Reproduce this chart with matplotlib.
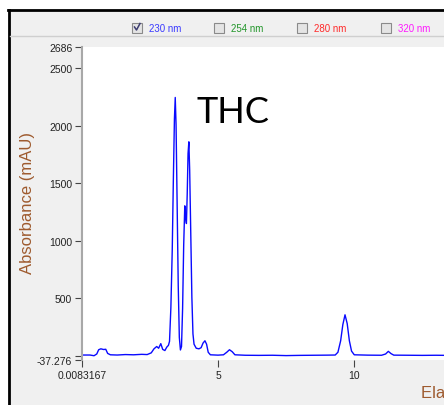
import matplotlib.pyplot as plt
from matplotlib.patches import Rectangle
from matplotlib.lines import Line2D

# chromatogram trace, 230 nm channel
rt_min = [0.0083, 0.30, 0.45, 0.55, 0.62, 0.70, 0.80, 0.88, 0.95, 1.05,
          1.30, 1.60, 1.90, 2.20, 2.40, 2.55, 2.65, 2.75, 2.82, 2.90,
          2.97, 3.05, 3.12, 3.18, 3.22, 3.27, 3.32, 3.36, 3.40, 3.43,
          3.46, 3.50, 3.54, 3.58, 3.62, 3.66, 3.70, 3.74, 3.78, 3.81,
          3.84, 3.87, 3.90, 3.93, 3.96, 4.00, 4.04, 4.08, 4.12, 4.20,
          4.30, 4.38, 4.45, 4.52, 4.58, 4.64, 4.72, 5.00, 5.20, 5.32,
          5.42, 5.52, 5.62, 6.00, 6.50, 7.00, 7.50, 8.00, 8.50, 9.00,
          9.30, 9.40, 9.50, 9.58, 9.66, 9.74, 9.82, 9.90, 10.00, 10.50,
          11.00, 11.15, 11.25, 11.35, 11.45, 12.00, 12.50, 13.00, 13.40]
absorbance_mau = [6, 6, 0, 15, 52, 60, 54, 56, 20, 8,
                  6, 10, 8, 12, 10, 25, 60, 80, 65, 105,
                  55, 45, 75, 90, 125, 420, 920, 1520, 2060, 2247,
                  2010, 1310, 610, 160, 50, 80, 410, 960, 1304, 1210,
                  1150, 1410, 1760, 1861, 1610, 1060, 510, 190, 100, 65,
                  60, 70, 110, 130, 100, 30, 8, 5, 8, 30,
                  52, 35, 8, 4, 3, 4, 1, 3, 4, 5,
                  6, 30, 130, 270, 356, 280, 130, 40, 8, 5,
                  4, 15, 38, 18, 5, 4, 3, 4, 3]

y_ticks = [-37.276, 0, 500, 1000, 1500, 2000, 2500, 2686]
y_tick_labels = ["-37.276", "", "500", "1000", "1500", "2000", "2500", "2686"]
x_ticks = [0.0083167, 5, 10]
x_tick_labels = ["0.0083167", "5", "10"]

wavelengths = ["230 nm", "254 nm", "280 nm", "320 nm"]
wavelength_colors = ["#3a3aff", "#22962a", "#ff2a2a", "#ff1aff"]
wavelength_checked = [True, False, False, False]

W, H = 444, 406
BROWN = "#9e5a2e"


def fx(px):
    return px / W


def fy(py):
    return 1 - py / H


def draw_window(fig):
    # white margin outside the panel, black panel border, toolbar separator
    fig.patches.append(Rectangle((0, fy(10)), 1, 10 / H, transform=fig.transFigure,
                                 facecolor="white", edgecolor="none"))
    fig.patches.append(Rectangle((0, 0), fx(7.5), 1, transform=fig.transFigure,
                                 facecolor="white", edgecolor="none"))
    fig.lines.append(Line2D([fx(7.5), 1], [fy(11.3), fy(11.3)], transform=fig.transFigure,
                            color="black", linewidth=2.0))
    fig.lines.append(Line2D([fx(8.8), fx(8.8)], [0, fy(10.5)], transform=fig.transFigure,
                            color="black", linewidth=2.0))
    fig.lines.append(Line2D([fx(10), 1], [fy(36.5), fy(36.5)], transform=fig.transFigure,
                            color="#cfcfcf", linewidth=1.0))


def draw_checkboxes(fig):
    box_x = [132, 214, 297, 381]
    for bx, label, color, checked in zip(box_x, wavelengths, wavelength_colors, wavelength_checked):
        fig.patches.append(Rectangle((fx(bx), fy(33.5)), 10 / W, 10 / H, transform=fig.transFigure,
                                     facecolor="#e4e4e4", edgecolor="#8a8a8a", linewidth=0.8))
        if checked:
            fig.lines.append(Line2D([fx(bx + 2.5), fx(bx + 4.5), fx(bx + 8)],
                                    [fy(28), fy(31), fy(24.5)], transform=fig.transFigure,
                                    color="#3c3c70", linewidth=1.1))
        fig.text(fx(bx + 17), fy(28.5), label, color=color, fontsize=7,
                 family="Liberation Sans", ha="left", va="center")


def plot_trace(fig):
    ax = fig.add_axes([fx(82), fy(361), fx(444) - fx(82), fy(48) - fy(361)])
    ax.set_facecolor("white")
    ax.plot(rt_min, absorbance_mau, color="#0a0aff", linewidth=1.0)

    ax.set_xlim(0.0083167, 0.0083167 + 362 / 27.25)
    ax.set_ylim(-37.276, 2686)
    ax.set_yticks(y_ticks)
    ax.set_yticklabels(y_tick_labels)
    ax.set_xticks(x_ticks)
    ax.set_xticklabels(x_tick_labels)
    ax.tick_params(direction="out", length=5, width=0.8, color="#444444",
                   labelsize=7.5, labelcolor="#222222", pad=2)
    for label in ax.get_xticklabels() + ax.get_yticklabels():
        label.set_family("Liberation Sans")

    for side in ["top", "right", "bottom"]:
        ax.spines[side].set_visible(False)
    ax.spines["left"].set_color("#a8a8a8")
    ax.spines["left"].set_linewidth(1.5)
    return ax


def main():
    fig = plt.figure(figsize=(W / 100, H / 100), dpi=100, facecolor="#f0f0f0")
    draw_window(fig)
    draw_checkboxes(fig)
    plot_trace(fig)

    fig.text(fx(27.5), 0.5, "Absorbance (mAU)", rotation=90, color=BROWN, fontsize=12,
             family="Liberation Sans", ha="center", va="center")
    fig.text(fx(421), fy(398), "Elapsed Time (min)", color=BROWN, fontsize=12,
             family="Liberation Sans", ha="left", va="baseline")
    fig.text(fx(196), fy(122.7), "THC", color="black", fontsize=26,
             family="Lato", ha="left", va="baseline")

    fig.savefig("out.png", dpi=100, facecolor=fig.get_facecolor())


if __name__ == "__main__":
    main()
